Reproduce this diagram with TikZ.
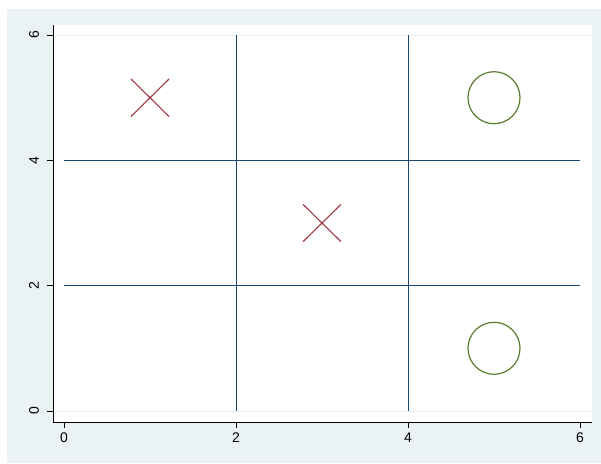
\documentclass[tikz,border=0pt]{standalone}
\usepackage{fontspec}
\setmainfont{Liberation Sans}
\definecolor{bgc}{HTML}{EAF2F3}
\definecolor{gridc}{HTML}{E6EEF0}
\definecolor{navy}{HTML}{1A476F}
\definecolor{xred}{HTML}{9E3A42}
\definecolor{ogreen}{HTML}{5A7D2E}
\tikzset{
  blueline/.style={navy, line width=1.1pt},
  xmark/.style={xred, line width=1.1pt},
  omark/.style={ogreen, line width=1.2pt},
  axisline/.style={black, line width=0.9pt},
  ticklab/.style={font=\fontsize{14}{16}\selectfont, inner sep=0pt}
}
\begin{document}
\begin{tikzpicture}[x=1pt,y=-1pt]
\useasboundingbox (0,0) rectangle (601,463);
\fill[bgc] (7,9) rectangle (601,463);
\fill[white] (53,25) rectangle (592,422);
% faint gridlines at 0 and 6
\draw[gridc, line width=1pt] (53,35) -- (592,35);
\draw[gridc, line width=1pt] (53,411) -- (592,411);
% blue lines
\draw[blueline] (236.5,35) -- (236.5,411);
\draw[blueline] (408.5,35) -- (408.5,411);
\draw[blueline] (64,160.5) -- (580,160.5);
\draw[blueline] (64,285.5) -- (580,285.5);
% X marks
\draw[xmark] (131,79) -- (169,116.5) (131,116.5) -- (169,79);
\draw[xmark] (303,204.3) -- (341,241.7) (303,241.7) -- (341,204.3);
% O marks
\draw[omark] (494,97.7) circle (26);
\draw[omark] (494,348.3) circle (26);
% axes
\draw[axisline] (53,25) -- (53,422) -- (592,422);
\foreach \v/\yy in {0/411,2/285.7,4/160.3,6/35} {
  \draw[axisline] (47,\yy) -- (53,\yy);
  \node[ticklab, rotate=90] at (34,\yy) {\v};
}
\foreach \u/\xx in {0/64,2/236,4/408,6/580} {
  \draw[axisline] (\xx,422) -- (\xx,428);
  \node[ticklab] at (\xx,437.5) {\u};
}
\end{tikzpicture}
\end{document}
